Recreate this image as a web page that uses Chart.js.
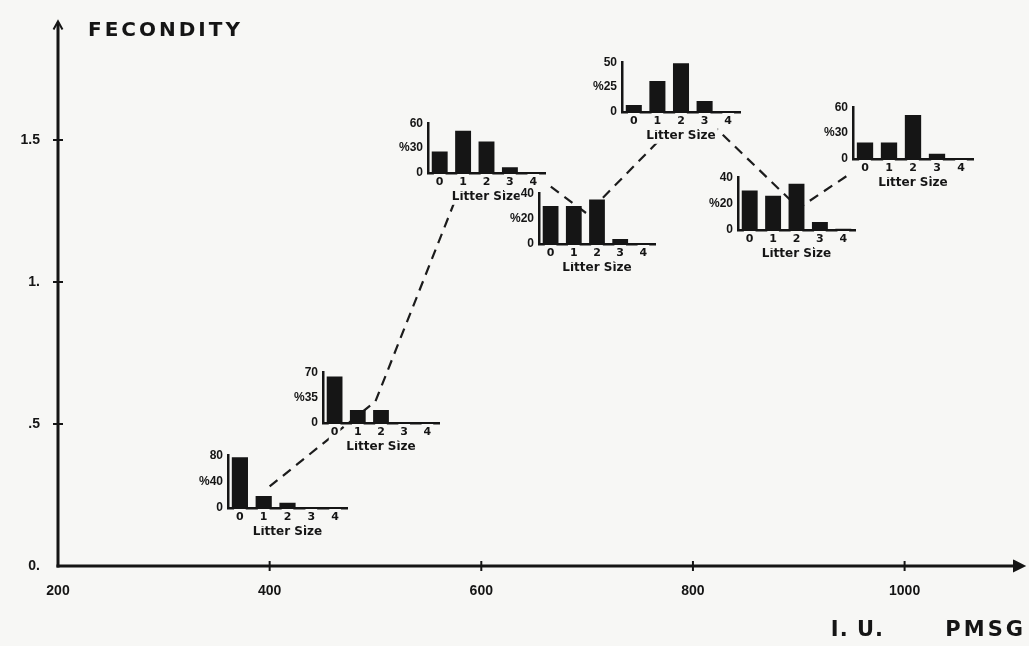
<!DOCTYPE html>
<html><head><meta charset="utf-8">
<script src="https://cdn.jsdelivr.net/npm/chart.js@4.4.0/dist/chart.umd.min.js"></script>
<style>
html,body{margin:0;padding:0;background:#f7f7f5;}
#wrap{position:relative;width:1029px;height:646px;overflow:hidden;background:#f7f7f5;}
#main{position:absolute;left:0;top:0;}
.inset{position:absolute;}
</style></head><body>
<div id="wrap"><canvas id="main" width="1029" height="646"></canvas></div>
<script>
// ---------------- data ----------------
const doses = [400, 500, 600, 700, 800, 900, 1000];
const fecundity = [0.28, 0.58, 1.52, 1.24, 1.62, 1.26, 1.51];
const xTickValues = [200, 400, 600, 800, 1000];
const xTickLabels = ['200', '400', '600', '800', '1000'];
const yTickValues = [0, 0.5, 1, 1.5];
const yTickLabels = ['0.', '.5', '1.', '1.5'];
const yTitle = 'FECONDITY';
const xTitleA = 'I. U.';
const xTitleB = 'PMSG';

const litterSizes = ['0', '1', '2', '3', '4'];
const litterTitle = 'Litter Size';
const pct400 = [77, 18, 8, 0, 0];
const pct500 = [64, 18, 18, 0, 0];
const pct600 = [26, 51, 38, 7, 1];
const pct700 = [30, 30, 35, 4, 0];
const pct800 = [7, 31, 49, 11, 0];
const pct900 = [30, 26, 35, 6, 1];
const pct1000 = [19, 19, 51, 6, 0];
const insetValues = [pct400, pct500, pct600, pct700, pct800, pct900, pct1000];
const insetMax = [80, 70, 60, 40, 50, 40, 60];
const insetTickLabels = [
  ['0', '%40', '80'], ['0', '%35', '70'], ['0', '%30', '60'], ['0', '%20', '40'],
  ['0', '%25', '50'], ['0', '%20', '40'], ['0', '%30', '60']
];

// ---------------- layout & style ----------------
// plot-area boxes of the inset charts: left, top, width, height (pixels)
const insetBoxes = [
  [228, 451, 119, 57], [323, 368, 116, 55], [428, 119, 117, 54], [539, 189, 116, 55],
  [622, 58, 118, 54], [738, 173, 117, 57], [853, 103, 120, 56]
];
// insets whose plot area is painted over the dashed line
const insetOpaque = [false, false, true, false, true, false, true];
const INK = '#151515';
const BG = '#f7f7f5';

// ---------------- main chart ----------------
const mainAxes = {
  id: 'mainAxes',
  afterDraw(chart) {
    const {ctx, chartArea: {left, right, top, bottom}, scales: {x, y}} = chart;
    ctx.save();
    ctx.strokeStyle = INK; ctx.fillStyle = INK;
    ctx.lineWidth = 3; ctx.lineCap = 'butt';
    ctx.beginPath(); ctx.moveTo(left, bottom + 1.5); ctx.lineTo(left, top - 3); ctx.stroke();
    ctx.beginPath(); ctx.moveTo(left - 1.5, bottom); ctx.lineTo(right + 1, bottom); ctx.stroke();
    ctx.lineWidth = 2;
    ctx.beginPath(); ctx.moveTo(left - 4.5, top + 3); ctx.lineTo(left, top - 5); ctx.lineTo(left + 4.5, top + 3); ctx.stroke();
    ctx.beginPath(); ctx.moveTo(right - 7, bottom - 5); ctx.lineTo(right + 3, bottom); ctx.lineTo(right - 7, bottom + 5); ctx.closePath(); ctx.fill(); ctx.stroke();
    xTickValues.slice(1).forEach(v => {
      const px = x.getPixelForValue(v);
      ctx.beginPath(); ctx.moveTo(px, bottom - 5); ctx.lineTo(px, bottom + 5); ctx.stroke();
    });
    yTickValues.slice(1).forEach(v => {
      const py = y.getPixelForValue(v);
      ctx.beginPath(); ctx.moveTo(left - 5, py); ctx.lineTo(left + 5, py); ctx.stroke();
    });
    // titles
    ctx.textBaseline = 'alphabetic';
    ctx.font = 'bold 20px "DejaVu Sans"';
    try { ctx.letterSpacing = '3px'; } catch (e) {}
    ctx.textAlign = 'left';
    ctx.fillText(yTitle, 88, 36);
    ctx.font = 'bold 21px "DejaVu Sans"';
    try { ctx.letterSpacing = '3px'; } catch (e) {}
    ctx.textAlign = 'right';
    ctx.fillText(xTitleB, 1026, 636);
    try { ctx.letterSpacing = '1px'; } catch (e) {}
    ctx.fillText(xTitleA, 884, 636);
    ctx.restore();
  }
};

new Chart(document.getElementById('main'), {
  type: 'line',
  data: {
    datasets: [{
      data: doses.map((d, i) => ({x: d, y: fecundity[i]})),
      borderColor: '#1c1c1c', borderWidth: 2.2, borderDash: [10, 7],
      pointRadius: 0, tension: 0, fill: false
    }]
  },
  options: {
    responsive: false, animation: false, devicePixelRatio: 1,
    layout: {padding: {top: 14, right: 8, left: 0, bottom: 0}},
    plugins: {legend: {display: false}, tooltip: {enabled: false}},
    scales: {
      x: {
        type: 'linear', min: 200, max: 1110,
        grid: {display: false, drawTicks: false}, border: {display: false},
        afterBuildTicks: s => { s.ticks = xTickValues.map(v => ({value: v})); },
        afterFit: s => { s.height = 80; },
        ticks: {
          padding: 17, color: INK, maxRotation: 0, autoSkip: false,
          font: {family: '"Liberation Sans", Arial, sans-serif', size: 14, weight: 'bold'},
          callback: v => xTickLabels[xTickValues.indexOf(v)]
        }
      },
      y: {
        type: 'linear', min: 0, max: 1.9,
        grid: {display: false, drawTicks: false}, border: {display: false},
        afterBuildTicks: s => { s.ticks = yTickValues.map(v => ({value: v})); },
        afterFit: s => { s.width = 58; },
        ticks: {
          padding: 18, color: INK,
          font: {family: '"Liberation Sans", Arial, sans-serif', size: 14, weight: 'bold'},
          callback: v => yTickLabels[yTickValues.indexOf(v)]
        }
      }
    }
  },
  plugins: [mainAxes]
});

// ---------------- inset bar charts ----------------
const wrap = document.getElementById('wrap');
const yW = 34, topPad = 8, xH = 34, rightPad = 8;
const titleFont = {family: '"DejaVu Sans"', size: 12, weight: 'bold'};
insetValues.forEach((vals, i) => {
  const [bl, bt, bw, bh] = insetBoxes[i];
  const cv = document.createElement('canvas');
  cv.className = 'inset';
  cv.width = yW + bw + rightPad;
  cv.height = topPad + bh + xH;
  cv.style.left = (bl - yW) + 'px';
  cv.style.top = (bt - topPad) + 'px';
  wrap.appendChild(cv);
  const max = insetMax[i];
  const backdrop = {
    id: 'insetBackdrop',
    beforeDraw(chart) {
      const {ctx, chartArea: a, scales: {x}} = chart;
      ctx.save();
      ctx.fillStyle = BG;
      if (insetOpaque[i]) ctx.fillRect(a.left - 2, a.top - 5, a.right - a.left + 5, a.bottom - a.top + 21);
      ctx.font = 'bold 12px "DejaVu Sans"';
      const w = ctx.measureText(litterTitle).width;
      const cx = (x.left + x.right) / 2;
      const cy = x.bottom - 3 - 7.2;
      ctx.fillRect(cx - w / 2 - 2, cy - 8, w + 4, 16);
      ctx.restore();
    }
  };
  new Chart(cv, {
    type: 'bar',
    data: {
      labels: litterSizes,
      datasets: [{data: vals, backgroundColor: INK, borderWidth: 0, barPercentage: 0.68, categoryPercentage: 1}]
    },
    options: {
      responsive: false, animation: false, devicePixelRatio: 1,
      layout: {padding: {top: topPad, right: rightPad, left: 0, bottom: 0}},
      plugins: {legend: {display: false}, tooltip: {enabled: false}},
      scales: {
        x: {
          grid: {display: false, drawTicks: false},
          border: {display: true, color: INK, width: 2.5},
          afterFit: s => { s.height = xH; },
          ticks: {padding: 3, color: INK, maxRotation: 0, autoSkip: false,
            showLabelBackdrop: true, backdropColor: BG, backdropPadding: 2,
            font: {family: '"DejaVu Sans"', size: 11, weight: 'bold'}},
          title: {display: true, text: litterTitle, color: INK, padding: {top: 0, bottom: 3}, font: titleFont}
        },
        y: {
          min: 0, max: max,
          grid: {display: false, drawTicks: false},
          border: {display: true, color: INK, width: 2.5},
          afterBuildTicks: s => { s.ticks = [0, max / 2, max].map(v => ({value: v})); },
          afterFit: s => { s.width = yW; },
          ticks: {padding: 5, color: INK,
            showLabelBackdrop: true, backdropColor: BG, backdropPadding: 1,
            font: {family: '"Liberation Sans", Arial, sans-serif', size: 12, weight: 'bold'},
            callback: (v, idx) => insetTickLabels[i][idx]}
        }
      }
    },
    plugins: [backdrop]
  });
});
</script>
</body></html>
